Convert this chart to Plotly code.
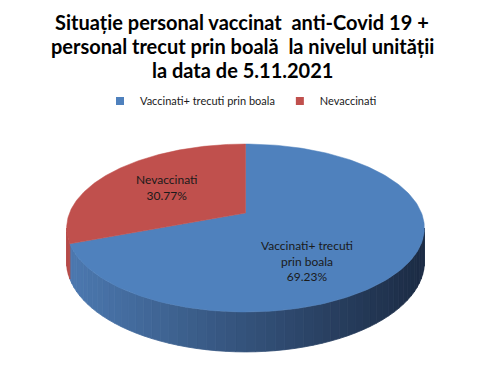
import numpy as np
import plotly.graph_objects as go

# ---- data ----
categories = ["Vaccinati+ trecuti prin boala", "Nevaccinati"]
label_texts = ["Vaccinati+ trecuti<br>prin boala", "Nevaccinati"]
values = [69.23, 30.77]
top_colors = ["#4F81BD", "#C0504D"]
title_lines = ["Situație personal vaccinat  anti-Covid 19 +",
               "personal trecut prin boală  la nivelul unității",
               "la data de 5.11.2021"]

W, HGT = 484, 374
OFF = 8  # page body margin offset: axis ranges map to screen pixels

# ---- perspective pie geometry (screen pixel space) ----
CX, CY = 245.5, 213.0
S, H, K, DEPTH = 176.0, 81.3, 0.1786, 32.8


def proj(theta_deg, depth=0.0):
    t = np.radians(theta_deg)
    X, Z = np.sin(t), np.cos(t)
    w = 1 + K * Z
    return CX + S * X / w, CY - H * Z / w + depth / w


total = float(sum(values))
fracs = [v / total for v in values]
b = 360.0 * (1 - fracs[1])
spans = [(0.0, b), (b, 360.0)]

fig = go.Figure()

sil_l = np.degrees(np.arccos(-K))
sil_r = 360.0 - sil_l


def lerp(c1, c2, u):
    c1 = [int(c1[i:i + 2], 16) for i in (1, 3, 5)]
    c2 = [int(c2[i:i + 2], 16) for i in (1, 3, 5)]
    return "rgb(%d,%d,%d)" % tuple(round(a + (bb - a) * u) for a, bb in zip(c1, c2))


side_light = ["#4B77AE", "#B64A47"]
side_dark = ["#1C2C45", "#8E3634"]
N = 60
edges = np.linspace(sil_l, sil_r, N + 1)
for i in range(N):
    a0, a1 = edges[i], edges[i + 1]
    th = np.linspace(a0, a1, 4)
    xt, yt = proj(th)
    xb, yb = proj(th[::-1], DEPTH)
    mid = (a0 + a1) / 2
    idx = 0 if mid < b else 1
    xm, _ = proj(mid)
    u = np.clip((xm - 75) / (420 - 75), 0, 1)
    col = lerp(side_light[idx], side_dark[idx], u)
    fig.add_trace(go.Scatter(
        x=np.concatenate([xt, xb, xt[:1]]), y=np.concatenate([yt, yb, yt[:1]]),
        fill="toself", fillcolor=col, mode="lines",
        line=dict(color=col, width=0.8), hoverinfo="skip", showlegend=False))

for (a0, a1), col in zip(spans, top_colors):
    th = np.linspace(a0, a1, 200)
    xa, ya = proj(th)
    fig.add_trace(go.Scatter(
        x=np.concatenate([[CX], xa, [CX]]), y=np.concatenate([[CY], ya, [CY]]),
        fill="toself", fillcolor=col, mode="lines",
        line=dict(color=col, width=0.5), hoverinfo="skip", showlegend=False))

for name, col in zip(categories, top_colors):
    fig.add_trace(go.Scatter(x=[None], y=[None], mode="markers", name=name,
                             marker=dict(symbol="square", size=8, color=col)))

label_pos = [(307, 261), (166, 187)]
for txt, v, (lx, ly) in zip(label_texts, values, label_pos):
    pct = 100.0 * v / total
    fig.add_annotation(x=lx, y=ly, text="%s<br>%.2f%%" % (txt, pct), showarrow=False,
                       font=dict(family="Lato", size=12, color="#1A1A1A"),
                       xanchor="center", yanchor="middle")

# title, one line per annotation for exact line spacing
for line, ty in zip(title_lines, [21.5, 45.5, 69.5]):
    fig.add_annotation(x=242, y=ty, text=line, showarrow=False, xanchor="center",
                       yanchor="middle", borderpad=0,
                       font=dict(family="Lato", size=20, color="black", weight="bold"))

fig.update_layout(
    width=W, height=HGT,
    margin=dict(l=0, r=0, t=0, b=0),
    paper_bgcolor="white", plot_bgcolor="white",
    xaxis=dict(range=[OFF, W + OFF], visible=False, fixedrange=True),
    yaxis=dict(range=[HGT + OFF, OFF], visible=False, fixedrange=True),
    legend=dict(orientation="h", x=(241 - OFF) / W, xanchor="center",
                y=1 - (101 - OFF) / HGT, yanchor="middle",
                font=dict(family="Lato", size=11, color="#1A1A1A"), bgcolor="rgba(0,0,0,0)"),
    showlegend=True,
)

fig.write_html("out.html")
